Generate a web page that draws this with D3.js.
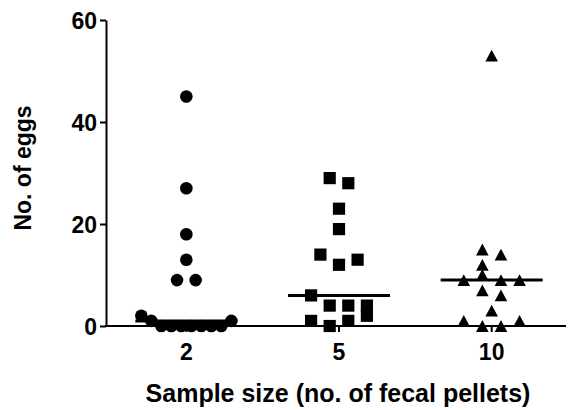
<!DOCTYPE html>
<html>
<head>
<meta charset="utf-8">
<script src="https://cdn.jsdelivr.net/npm/d3@7"></script>
<style>
  body { margin: 0; background: #fff; }
  text { font-family: "Liberation Sans", Arial, sans-serif; font-weight: bold; fill: #000; }
</style>
</head>
<body>
<div class="chart-div"></div>
<script>
//--------------------------- Data (order inside a group = data entry order)

var categories = ["2", "5", "10"];
var eggs2 = [45, 27, 18, 13, 9, 9, 2, 1, 0, 0, 0, 0, 0, 0, 0, 1];
var eggs5 = [29, 28, 23, 19, 14, 12, 13, 6, 4, 4, 4, 1, 0, 1, 2];
var eggs10 = [53, 15, 12, 14, 9, 10, 9, 9, 7, 6, 3, 1, 0, 0, 1];
var yTicks = [0, 20, 40, 60];

var groups = [eggs2, eggs5, eggs10];

//--------------------------- SVG definition

var width = 568;
var height = 410;

var svg = d3.select("div.chart-div")
    .append("svg")
    .attr("width", width)
    .attr("height", height);

//--------------------------- Scales

var x0 = 106, x1 = 566, yTop = 20, yBottom = 326;

var x = d3.scaleBand()
    .domain(categories)
    .range([110, 568]);

var y = d3.scaleLinear()
    .domain([0, 60])
    .range([yBottom, yTop]);

var fontSize = 23;

//--------------------------- Axes

var yAxis = svg.append("g")
    .attr("transform", "translate(" + x0 + ",0)")
    .call(d3.axisLeft(y).tickValues(yTicks).tickSize(6).tickSizeOuter(0).tickPadding(3));

yAxis.select(".domain").attr("stroke-width", 2);
yAxis.selectAll(".tick line").attr("stroke-width", 2);
yAxis.selectAll(".tick text")
    .style("font-size", fontSize + "px")
    .attr("dy", "0.36em");

var xAxis = svg.append("g")
    .attr("transform", "translate(0," + yBottom + ")")
    .call(d3.axisBottom(x).tickSize(6).tickSizeOuter(0).tickPadding(12));

xAxis.select(".domain").remove();
xAxis.selectAll(".tick line").attr("stroke-width", 2);
xAxis.selectAll(".tick text")
    .style("font-size", fontSize + "px");

svg.append("line")
    .attr("x1", x0 - 1).attr("x2", x1)
    .attr("y1", yBottom).attr("y2", yBottom)
    .attr("stroke", "#000")
    .attr("stroke-width", 2);

svg.append("text")
    .attr("x", 338)
    .attr("y", 402)
    .attr("text-anchor", "middle")
    .style("font-size", "25px")
    .text("Sample size (no. of fecal pellets)");

svg.append("text")
    .attr("transform", "translate(31,168)rotate(-90)")
    .attr("text-anchor", "middle")
    .style("font-size", fontSize + "px")
    .text("No. of eggs");

//--------------------------- Scatter layout: rows of close values, spread sideways

var rowH = 12;      // values closer than this (px) share a row
var half = 9.3;     // half of the normal spacing inside a row
var maxSpan = 90;   // widest a row may get
var hit = 10;       // two symbols closer than this collide

function layout(values) {
    var items = values.map(function (v, i) { return { v: v, i: i, py: y(v) }; });
    var sorted = items.slice().sort(function (a, b) { return a.v - b.v || a.i - b.i; });
    var rows = [];
    sorted.forEach(function (d) {
        var row = rows[rows.length - 1];
        if (row && row[0].py - d.py <= rowH) row.push(d);
        else rows.push([d]);
    });
    var placed = [];
    rows.forEach(function (row) {
        row.sort(function (a, b) { return a.i - b.i; });
        var n = row.length;
        var gap = n > 1 ? Math.min(2 * half, maxSpan / (n - 1)) : 0;
        row.forEach(function (d, k) { d.dx = (k - (n - 1) / 2) * gap; });
        var shifts = [0];
        for (var s = 1; s < 10; s++) shifts.push(s * half, -s * half);
        for (var j = 0; j < shifts.length; j++) {
            var sh = shifts[j];
            var clash = row.some(function (d) {
                return placed.some(function (p) {
                    return Math.abs(p.dx - (d.dx + sh)) < hit && Math.abs(p.py - d.py) < hit;
                });
            });
            if (!clash) {
                row.forEach(function (d) { d.dx += sh; });
                break;
            }
        }
        row.forEach(function (d) { placed.push(d); });
    });
    return items;
}

//--------------------------- Symbols

var triangle = {
    draw: function (context, size) {
        var w = 12.6, h = 11.8;
        context.moveTo(0, -h / 2);
        context.lineTo(w / 2, h / 2);
        context.lineTo(-w / 2, h / 2);
        context.closePath();
    }
};

var symbols = [
    d3.symbol().type(d3.symbolCircle).size(Math.PI * 6.3 * 6.3),
    d3.symbol().type(d3.symbolSquare).size(12.2 * 12.2),
    d3.symbol().type(triangle)
];

//--------------------------- Points and median lines

groups.forEach(function (values, g) {
    var cx = x(categories[g]) + x.bandwidth() / 2;
    var pts = layout(values);

    svg.append("g")
        .selectAll("path")
        .data(pts)
        .enter()
        .append("path")
        .attr("d", symbols[g])
        .attr("transform", function (d) { return "translate(" + (cx + d.dx) + "," + d.py + ")"; })
        .attr("fill", "#000");

    var med = d3.median(values);
    svg.append("line")
        .attr("x1", cx - 51).attr("x2", cx + 51)
        .attr("y1", y(med)).attr("y2", y(med))
        .attr("stroke", "#000")
        .attr("stroke-width", 3);
});
</script>
</body>
</html>
